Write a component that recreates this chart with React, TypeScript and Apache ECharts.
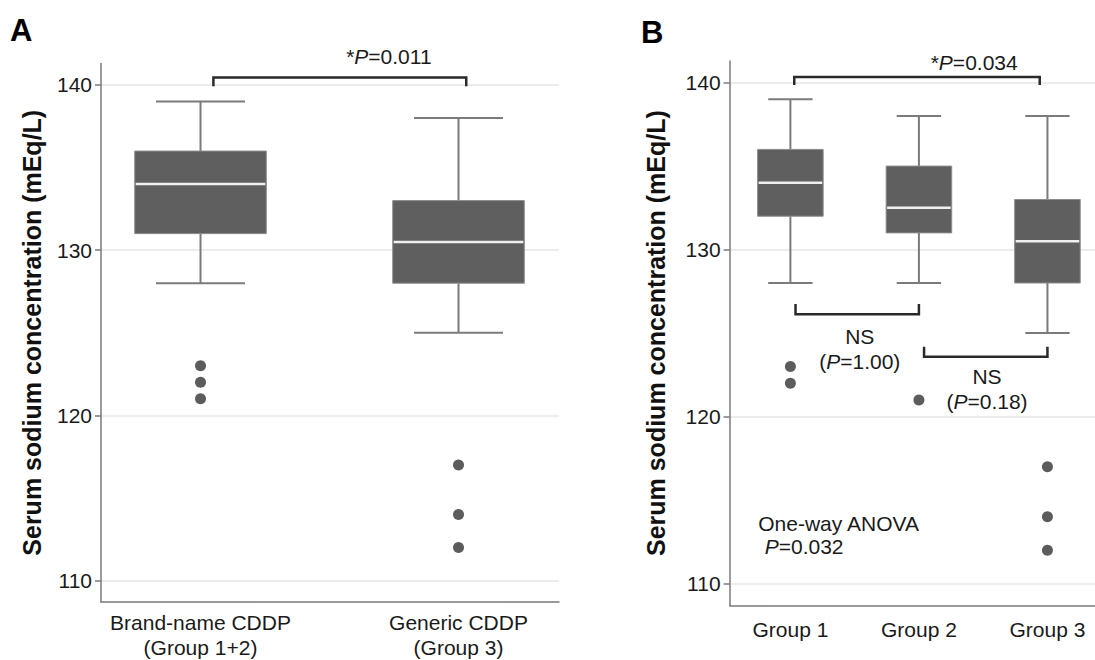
import React, { useEffect, useRef } from 'react';
import * as echarts from 'echarts';

// ---------- data ----------
const yTicks = [110, 120, 130, 140];

const aCategories = ['Brand-name CDDP\n(Group 1+2)', 'Generic CDDP\n(Group 3)'];
// [min, Q1, median, Q3, max]
const aBoxes = [
  [128, 131, 134, 136, 139],
  [125, 128, 130.5, 133, 138],
];
const aOutliers = [[123, 122, 121], [117, 114, 112]];

const bCategories = ['Group 1', 'Group 2', 'Group 3'];
const bBoxes = [
  [128, 132, 134, 136, 139],
  [128, 131, 132.5, 135, 138],
  [125, 128, 130.5, 133, 138],
];
const bOutliers = [[123, 122], [121], [117, 114, 112]];

// annotation brackets: [x from, x to, bar y, tip y]
const aBrackets = [[1.05, 2.03, 140.45, 139.93]];
const bBrackets = [
  [1.03, 2.94, 140.34, 139.86],
  [1.04, 2.0, 126.13, 126.74],
  [2.04, 3.0, 123.59, 124.19],
];

// annotation texts
const aNoteTexts = ['{s|*}{i|P}=0.011'];
const aNotePos = [[1.73, 141.72]];
const aNoteAlign = ['center'];
const bNoteTexts = ['{s|*}{i|P}=0.034', 'NS', '({i|P}=1.00)', 'NS', '({i|P}=0.18)', 'One-way ANOVA', '{i|P}=0.032'];
const bNotePos = [
  [2.43, 141.2],
  [1.54, 124.78],
  [1.54, 123.29],
  [2.53, 122.39],
  [2.53, 120.89],
  [0.75, 113.57],
  [0.8, 112.21],
];
const bNoteAlign = ['center', 'center', 'center', 'center', 'center', 'left', 'left'];

// ---------- style ----------
const FONT = '"Liberation Sans", Arial, Helvetica, sans-serif';
const BOX_W = 0.51;
const CAP_W = 0.345;
const AXIS_COLOR = '#7a7a7a';
const BOX_FILL = '#5f5f5f';
const WHISKER = '#7b7b7b';

function boxRender(params: any, api: any) {
  const x = api.value(0);
  const mn = api.value(1), q1 = api.value(2), md = api.value(3), q3 = api.value(4), mx = api.value(5);
  const boxW = api.size([BOX_W, 0])[0];
  const capW = api.size([CAP_W, 0])[0];
  const pMin = api.coord([x, mn]);
  const pQ1 = api.coord([x, q1]);
  const pMd = api.coord([x, md]);
  const pQ3 = api.coord([x, q3]);
  const pMax = api.coord([x, mx]);
  const cx = pMin[0];
  const ws = { stroke: WHISKER, lineWidth: 2 };
  return {
    type: 'group',
    children: [
      { type: 'line', shape: { x1: cx, y1: pMax[1], x2: cx, y2: pQ3[1] }, style: ws },
      { type: 'line', shape: { x1: cx, y1: pQ1[1], x2: cx, y2: pMin[1] }, style: ws },
      { type: 'line', shape: { x1: cx - capW / 2, y1: pMax[1], x2: cx + capW / 2, y2: pMax[1] }, style: ws },
      { type: 'line', shape: { x1: cx - capW / 2, y1: pMin[1], x2: cx + capW / 2, y2: pMin[1] }, style: ws },
      {
        type: 'rect',
        shape: { x: cx - boxW / 2, y: pQ3[1], width: boxW, height: pQ1[1] - pQ3[1] },
        style: { fill: BOX_FILL, stroke: '#8c8c8c', lineWidth: 1 },
      },
      {
        type: 'line',
        shape: { x1: cx - boxW / 2 + 1, y1: pMd[1], x2: cx + boxW / 2 - 1, y2: pMd[1] },
        style: { stroke: '#f0f0f0', lineWidth: 2.5 },
      },
    ],
  };
}

function bracketRender(params: any, api: any) {
  const x1 = api.value(0), x2 = api.value(1), y = api.value(2), ty = api.value(3);
  const a = api.coord([x1, ty]);
  const b = api.coord([x1, y]);
  const c = api.coord([x2, y]);
  const d = api.coord([x2, ty]);
  return {
    type: 'polyline',
    shape: { points: [a, b, c, d] },
    style: { stroke: '#2a2a2a', lineWidth: 2.5, fill: null },
  };
}

function makeNoteRender(texts: string[], aligns: string[]) {
  return (params: any, api: any) => {
    const p = api.coord([api.value(0), api.value(1)]);
    return {
      type: 'text',
      x: p[0],
      y: p[1],
      style: {
        text: texts[params.dataIndex],
        fill: '#1a1a1a',
        fontSize: 21,
        fontFamily: FONT,
        align: aligns[params.dataIndex],
        verticalAlign: 'middle',
        rich: {
          i: { fontStyle: 'italic', fontSize: 21, fontFamily: FONT, fill: '#1a1a1a' },
          s: { fontSize: 21, fontFamily: FONT, fill: '#1a1a1a' },
        },
      },
    };
  };
}

function yAxisCfg(gridIndex: number, nameGap: number) {
  return {
    type: 'value',
    gridIndex,
    min: 108.7,
    max: 141.3,
    axisLine: { show: true, lineStyle: { color: AXIS_COLOR, width: 1.5 } },
    axisTick: { show: true, length: 6, customValues: yTicks, lineStyle: { color: AXIS_COLOR, width: 1.5 } },
    axisLabel: { customValues: yTicks, fontSize: 21, color: '#1a1a1a', margin: 9, fontFamily: FONT },
    splitLine: { show: true, lineStyle: { color: '#e6e6e6', width: 1.5 } },
    name: 'Serum sodium concentration (mEq/L)',
    nameLocation: 'middle',
    nameRotate: 90,
    nameGap,
    nameTextStyle: { fontSize: 25, fontWeight: 'bold', color: '#111', fontFamily: FONT },
  };
}

function xAxisCfg(gridIndex: number, min: number, max: number, cats: string[], margin: number) {
  return {
    type: 'value',
    gridIndex,
    min,
    max,
    axisLine: { show: true, onZero: false, lineStyle: { color: AXIS_COLOR, width: 1.5 } },
    axisTick: { show: false },
    splitLine: { show: false },
    axisLabel: {
      customValues: cats.map((_, i) => i + 1),
      formatter: (v: number) => cats[Math.round(v) - 1] ?? '',
      fontSize: 21,
      lineHeight: 25,
      color: '#1a1a1a',
      margin,
      fontFamily: FONT,
    },
  };
}

export default function App() {
  const ref = useRef<HTMLDivElement>(null);
  useEffect(() => {
    if (!ref.current) return;
    const chart = echarts.init(ref.current, undefined, { renderer: 'svg' });
    const option: any = {
      animation: false,
      backgroundColor: '#ffffff',
      textStyle: { fontFamily: FONT },
      grid: [
        { left: 101, top: 63.5, width: 458, height: 540 },
        { left: 729.6, top: 60.9, width: 366, height: 544.4 },
      ],
      xAxis: [
        xAxisCfg(0, 0.6143, 2.3895, aCategories, 8),
        xAxisCfg(1, 0.527, 3.37, bCategories, 12),
      ],
      yAxis: [yAxisCfg(0, 57), yAxisCfg(1, 61)],
      graphic: [
        { type: 'text', left: 10, top: 15, style: { text: 'A', font: `bold 31px ${FONT}`, fill: '#000' } },
        { type: 'text', left: 641, top: 17, style: { text: 'B', font: `bold 31px ${FONT}`, fill: '#000' } },
      ],
      series: [
        {
          type: 'custom',
          xAxisIndex: 0,
          yAxisIndex: 0,
          renderItem: boxRender,
          encode: { x: 0, y: [1, 2, 3, 4, 5] },
          data: aBoxes.map((b, i) => [i + 1, ...b]),
          silent: true,
          z: 3,
        },
        {
          type: 'scatter',
          xAxisIndex: 0,
          yAxisIndex: 0,
          symbolSize: 11,
          itemStyle: { color: '#5c5c5c', opacity: 1 },
          data: aOutliers.flatMap((arr, i) => arr.map((v) => [i + 1, v])),
          silent: true,
          z: 4,
        },
        {
          type: 'custom',
          xAxisIndex: 0,
          yAxisIndex: 0,
          renderItem: bracketRender,
          encode: { x: [0, 1], y: [2, 3] },
          data: aBrackets,
          clip: false,
          silent: true,
          z: 5,
        },
        {
          type: 'custom',
          xAxisIndex: 0,
          yAxisIndex: 0,
          renderItem: makeNoteRender(aNoteTexts, aNoteAlign),
          encode: { x: 0, y: 1 },
          data: aNotePos,
          clip: false,
          silent: true,
          z: 5,
        },
        {
          type: 'custom',
          xAxisIndex: 1,
          yAxisIndex: 1,
          renderItem: boxRender,
          encode: { x: 0, y: [1, 2, 3, 4, 5] },
          data: bBoxes.map((b, i) => [i + 1, ...b]),
          silent: true,
          z: 3,
        },
        {
          type: 'scatter',
          xAxisIndex: 1,
          yAxisIndex: 1,
          symbolSize: 11,
          itemStyle: { color: '#5c5c5c', opacity: 1 },
          data: bOutliers.flatMap((arr, i) => arr.map((v) => [i + 1, v])),
          silent: true,
          z: 4,
        },
        {
          type: 'custom',
          xAxisIndex: 1,
          yAxisIndex: 1,
          renderItem: bracketRender,
          encode: { x: [0, 1], y: [2, 3] },
          data: bBrackets,
          clip: false,
          silent: true,
          z: 5,
        },
        {
          type: 'custom',
          xAxisIndex: 1,
          yAxisIndex: 1,
          renderItem: makeNoteRender(bNoteTexts, bNoteAlign),
          encode: { x: 0, y: 1 },
          data: bNotePos,
          clip: false,
          silent: true,
          z: 5,
        },
      ],
    };
    chart.setOption(option);
    return () => chart.dispose();
  }, []);
  return (
    <div
      ref={ref}
      style={{ position: 'fixed', left: 0, top: 0, width: 1095, height: 660, background: '#fff' }}
    />
  );
}
